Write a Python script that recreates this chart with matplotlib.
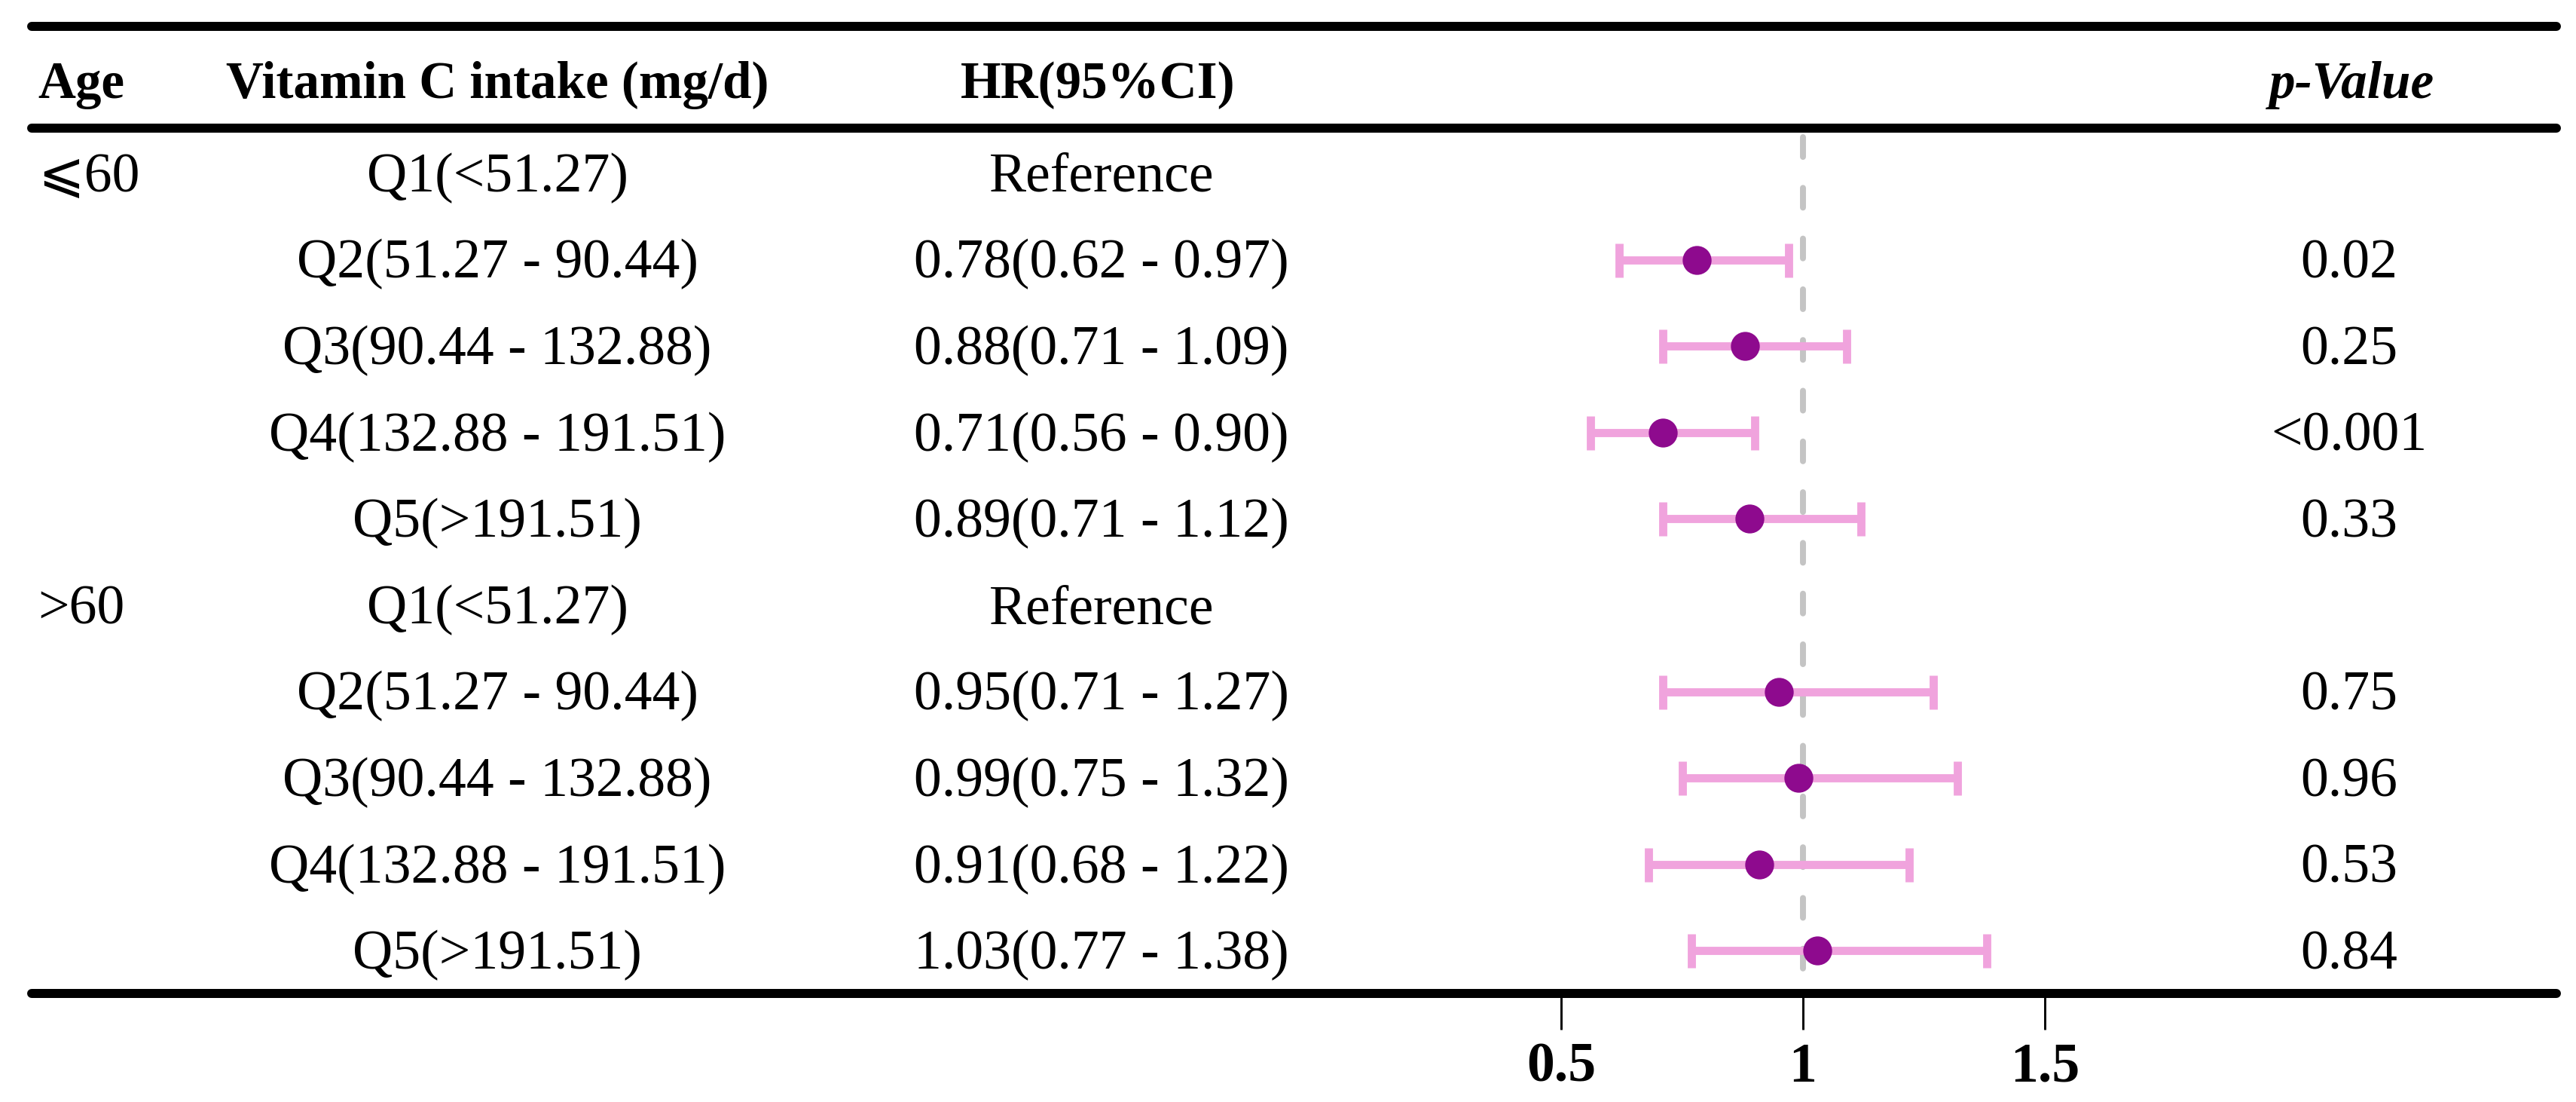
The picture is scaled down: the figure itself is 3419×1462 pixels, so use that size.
import numpy as np
import matplotlib
matplotlib.use("Agg")
import matplotlib.pyplot as plt

plt.rcParams['font.family'] = ['Liberation Serif', 'DejaVu Serif', 'DejaVu Sans']

# table data
age_groups = ['⩽60', '>60']
intake_labels = ['Q1(<51.27)', 'Q2(51.27 - 90.44)', 'Q3(90.44 - 132.88)',
                 'Q4(132.88 - 191.51)', 'Q5(>191.51)']
hr = [np.nan, 0.78, 0.88, 0.71, 0.89, np.nan, 0.95, 0.99, 0.91, 1.03]
lo = [np.nan, 0.62, 0.71, 0.56, 0.71, np.nan, 0.71, 0.75, 0.68, 0.77]
hi = [np.nan, 0.97, 1.09, 0.90, 1.12, np.nan, 1.27, 1.32, 1.22, 1.38]
p_values = ['', '0.02', '0.25', '<0.001', '0.33', '', '0.75', '0.96', '0.53', '0.84']
xticks = [0.5, 1, 1.5]

W, H = 3419, 1462
DPI = 300
fig = plt.figure(figsize=(W / DPI, H / DPI), dpi=DPI)

# background axes in pixel units for the table
bg = fig.add_axes([0, 0, 1, 1])
bg.set_xlim(0, W)
bg.set_ylim(H, 0)
bg.axis('off')

n = len(hr)
row_y = 230 + 114.6 * np.arange(n)
base = 24  # baseline offset below row centre

rule_lw = 12 * 72 / DPI
for yy in [35, 170, 1318]:
    bg.plot([42, 3393], [yy, yy], color='black', lw=rule_lw, solid_capstyle='round', zorder=3)

fs = 17.7
hfs = 16.6
# headers
bg.text(50, 130, 'Age', fontsize=hfs, fontweight='bold', ha='left', va='baseline')
bg.text(660, 130, 'Vitamin C intake (mg/d)', fontsize=hfs, fontweight='bold', ha='center', va='baseline')
bg.text(1457, 130, 'HR(95%CI)', fontsize=hfs, fontweight='bold', ha='center', va='baseline')
bg.text(3121, 130, 'p-Value', fontsize=hfs, fontweight='bold', fontstyle='italic', ha='center', va='baseline')

for i in range(n):
    y = row_y[i] + base
    if i % 5 == 0:
        bg.text(50, y, age_groups[i // 5], fontsize=fs, ha='left', va='baseline')
    bg.text(660, y, intake_labels[i % 5], fontsize=fs, ha='center', va='baseline')
    if np.isnan(hr[i]):
        txt = 'Reference'
    else:
        txt = f'{hr[i]:.2f}({lo[i]:.2f} - {hi[i]:.2f})'
    bg.text(1462, y, txt, fontsize=fs, ha='center', va='baseline')
    bg.text(3118, y, p_values[i], fontsize=fs, ha='center', va='baseline')

# forest axes: same vertical pixel mapping, bottom at the lower rule
x_one, px_unit = 2393, 642
ax = fig.add_axes([0, (H - 1318) / H, 1, 1318 / H])
ax.set_facecolor('none')
ax.set_xlim(1 - x_one / px_unit, 1 + (W - x_one) / px_unit)
ax.set_ylim(1318, 0)
for s in ax.spines.values():
    s.set_visible(False)
ax.set_yticks([])
ax.set_xticks(xticks)
ax.set_xticklabels(['0.5', '1', '1.5'], fontsize=fs, fontweight='bold')
ax.tick_params(axis='x', length=11.5, width=0.7, pad=4, direction='out')

ax.plot([1, 1], [182, 1312], color='#c4c4c4', lw=1.9, dashes=(3.3, 5.2),
        dash_capstyle='round', zorder=1)

hr_a = np.array(hr)
lo_a = np.array(lo)
hi_a = np.array(hi)
m = ~np.isnan(hr_a)
ax.errorbar(hr_a[m], row_y[m], xerr=[hr_a[m] - lo_a[m], hi_a[m] - hr_a[m]],
            fmt='none', ecolor='#f0a3dd', elinewidth=2.6, capsize=5.4, capthick=2.6, zorder=2)
ax.plot(hr_a[m], row_y[m], 'o', color='#8e0a8e', markersize=8.2, zorder=4)

fig.savefig('out.png', dpi=DPI)
